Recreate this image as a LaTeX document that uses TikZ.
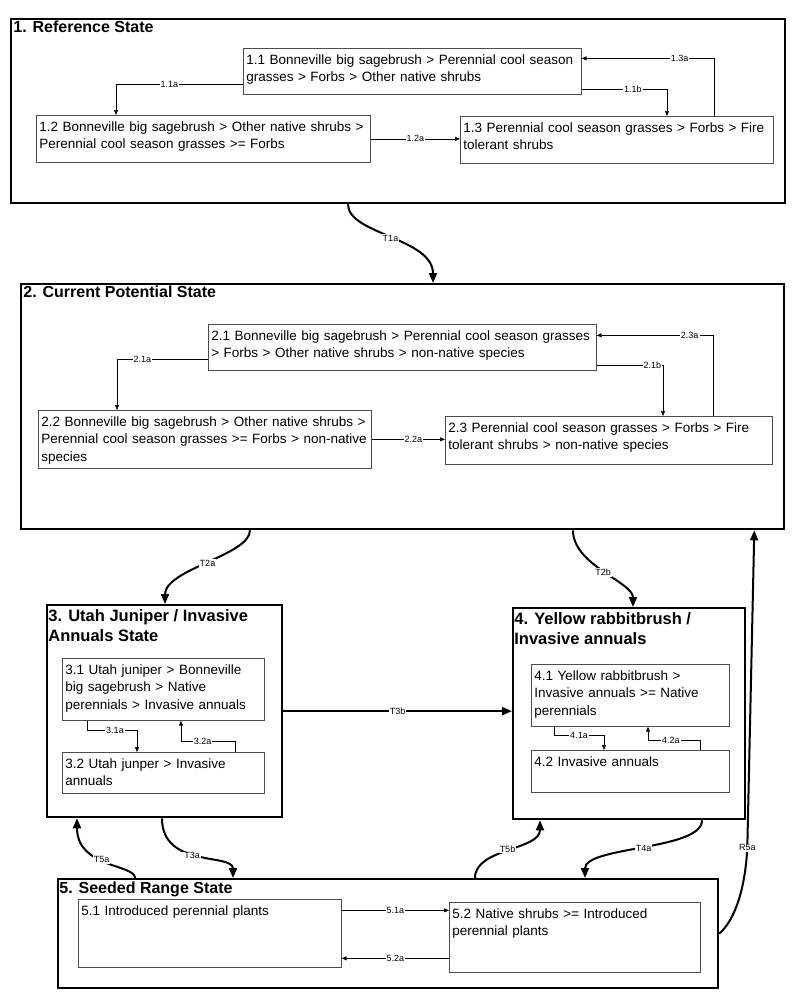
\documentclass[tikz,border=0pt]{standalone}
\usepackage{fontspec}
\setmainfont{Liberation Sans}
\usetikzlibrary{arrows.meta,positioning,calc}
\begin{document}
\begin{tikzpicture}[x=1pt,y=-1pt,thick]
    % `statebox' is the heavy frame of a state, `statename' its heading.
    % `substate' is used for the community phases inside a state.
    % `pathway' and `transition' are the thin and the heavy arrows.
    \tikzstyle{statebox} = [draw,line width=2.3pt,anchor=north west,inner sep=0pt]
    \tikzstyle{statename} = [anchor=north west,align=left,inner sep=1pt,font=\bfseries\fontsize{16}{20}\selectfont]
    \tikzstyle{substate} = [draw=black!70,line width=0.7pt,anchor=north west,align=left,inner sep=3pt,text height=13pt,font=\fontsize{13.5}{17.5}\selectfont]
    \tikzstyle{pathway} = [line width=0.6pt,-{Triangle[length=5pt,width=4pt]}]
    \tikzstyle{transition} = [line width=2pt,-{Triangle[length=10pt,width=8pt]}]
    \tikzstyle{lbl} = [fill=white,inner sep=1pt,font=\fontsize{9}{9}\selectfont]
    \useasboundingbox (0,0) rectangle (800,1002);
    %
    % 1. Reference State
    \node[statebox,minimum width=774pt,minimum height=184pt] (st1) at (10,18) {};
    \node[statename,below right=2pt and 2pt of st1.north west] (h1) {1. Reference State};
    \node[substate,text width=332pt,text depth=27pt] (s11) at (243,48)
      {1.1 Bonneville big sagebrush > Perennial cool season\\ grasses > Forbs > Other native shrubs};
    \node[substate,text width=328pt,text depth=28pt] (s12) at (36,115)
      {1.2 Bonneville big sagebrush > Other native shrubs >\\ Perennial cool season grasses >= Forbs};
    \node[substate,text width=307pt,text depth=28pt] (s13) at (460,116)
      {1.3 Perennial cool season grasses > Forbs > Fire\\ tolerant shrubs};
    \draw[pathway] ([yshift=-13pt]s11.west) -| node[lbl,pos=0.29]{1.1a} ([xshift=80pt]s12.north west);
    \draw[pathway] ([yshift=-18pt]s11.east) -| node[lbl,pos=0.3]{1.1b} ([xshift=207pt]s13.north west);
    \draw[pathway] ([xshift=254pt]s13.north west) |- node[lbl,pos=0.63]{1.3a} ([yshift=13pt]s11.east);
    \draw[pathway] (s12.east) -- node[lbl]{1.2a} (s12.east -| s13.west);
    %
    % 2. Current Potential State
    \node[statebox,minimum width=763pt,minimum height=245pt] (st2) at (20,283) {};
    \node[statename,below right=2pt and 2pt of st2.north west] (h2) {2. Current Potential State};
    \node[substate,text width=382pt,text depth=27pt] (s21) at (208,324)
      {2.1 Bonneville big sagebrush > Perennial cool season grasses\\ > Forbs > Other native shrubs > non-native species};
    \node[substate,text width=327pt,text depth=39pt] (s22) at (38,410)
      {2.2 Bonneville big sagebrush > Other native shrubs >\\ Perennial cool season grasses >= Forbs > non-native\\ species};
    \node[substate,text width=321pt,text depth=29pt] (s23) at (445,416)
      {2.3 Perennial cool season grasses > Forbs > Fire\\ tolerant shrubs > non-native species};
    \draw[pathway] ([yshift=-12pt]s21.west) -| node[lbl,pos=0.36]{2.1a} ([xshift=79pt]s22.north west);
    \draw[pathway] ([yshift=-18pt]s21.east) -| node[lbl,pos=0.42]{2.1b} ([xshift=218pt]s23.north west);
    \draw[pathway] ([xshift=268pt]s23.north west) |- node[lbl,pos=0.6]{2.3a} ([yshift=12pt]s21.east);
    \draw[pathway] (s22.east) -- node[lbl,pos=0.57]{2.2a} (s22.east -| s23.west);
    %
    % 3. Utah Juniper / Invasive Annuals State
    \node[statebox,minimum width=235pt,minimum height=212pt] (st3) at (46,604) {};
    \node[statename,below right=4pt and 1pt of st3.north west,font=\bfseries\fontsize{16.5}{20}\selectfont] (h3)
      {3. Utah Juniper / Invasive\\ Annuals State};
    \node[substate,text width=196pt,text depth=43pt] (s31) at (62,658)
      {3.1 Utah juniper > Bonneville\\ big sagebrush > Native\\ perennials > Invasive annuals};
    \node[substate,text width=196pt,text depth=22pt] (s32) at (62,752)
      {3.2 Utah junper > Invasive\\ annuals};
    \draw[pathway] ([xshift=25pt]s31.south west) -- ++(0,10) -| node[lbl,pos=0.28]{3.1a} ([xshift=75pt]s32.north west);
    \draw[pathway] ([xshift=173pt]s32.north west) -- ++(0,-11) -| node[lbl,pos=0.3]{3.2a} ([xshift=119pt]s31.south west);
    %
    % 4. Yellow rabbitbrush / Invasive annuals
    \node[statebox,minimum width=232pt,minimum height=211pt] (st4) at (512,607) {};
    \node[statename,below right=4pt and 1pt of st4.north west,font=\bfseries\fontsize{16.5}{20}\selectfont] (h4)
      {4. Yellow rabbitbrush /\\ Invasive annuals};
    \node[substate,text width=192pt,text depth=43pt] (s41) at (531,664)
      {4.1 Yellow rabbitbrush >\\ Invasive annuals >= Native\\ perennials};
    \node[substate,text width=192pt,text depth=23pt] (s42) at (531,750)
      {4.2 Invasive annuals};
    \draw[pathway] ([xshift=23pt]s41.south west) -- ++(0,9) -| node[lbl,pos=0.25]{4.1a} ([xshift=73pt]s42.north west);
    \draw[pathway] ([xshift=169pt]s42.north west) -- ++(0,-10) -| node[lbl,pos=0.28]{4.2a} ([xshift=117pt]s41.south west);
    %
    % 5. Seeded Range State
    \node[statebox,minimum width=660pt,minimum height=109pt] (st5) at (57,878) {};
    \node[statename,below right=2pt and 1pt of st5.north west] (h5) {5. Seeded Range State};
    \node[substate,text width=257pt,text depth=49pt] (s51) at (78,899)
      {5.1 Introduced perennial plants};
    \node[substate,text width=245pt,text depth=51pt] (s52) at (449,902)
      {5.2 Native shrubs >= Introduced\\ perennial plants};
    \draw[pathway] ([yshift=23pt]s51.east) -- node[lbl]{5.1a} ([yshift=23pt]s51.east -| s52.west);
    \draw[pathway] ([yshift=-21pt]s52.west) -- node[lbl]{5.2a} ([yshift=-21pt]s52.west -| s51.east);
    %
    % Transitions between states.
    \draw[transition] ([xshift=338pt]st1.south west) .. controls +(0,30) and +(0,-45) .. ([xshift=413pt]st2.north west) node[lbl,midway]{T1a};
    \draw[transition] ([xshift=230pt]st2.south west) .. controls +(0,25) and +(0,-35) .. ([xshift=119pt]st3.north west) node[lbl,midway]{T2a};
    \draw[transition] ([xshift=553pt]st2.south west) .. controls +(0,35) and +(0,-25) .. ([xshift=121pt]st4.north west) node[lbl,midway]{T2b};
    \draw[transition] (st3.east) -- node[lbl]{T3b} (st3.east -| st4.west);
    \draw[transition] ([xshift=116pt]st3.south west) .. controls +(0,50) and +(0,-25) .. ([xshift=176pt]st5.north west) node[lbl,pos=0.45]{T3a};
    \draw[transition] ([xshift=78pt]st5.north west) .. controls +(0,-14) and +(0,50) .. ([xshift=31pt]st3.south west) node[lbl,pos=0.55]{T5a};
    \draw[transition] ([xshift=418pt]st5.north west) .. controls +(0,-30) and +(0,30) .. ([xshift=28pt]st4.south west) node[lbl,midway]{T5b};
    \draw[transition] ([xshift=190pt]st4.south west) .. controls +(0,30) and +(0,-32) .. ([xshift=528pt]st5.north west) node[lbl,midway]{T4a};
    \draw[transition] (st5.east) .. controls +(16,-14) and +(-2,40) .. ($(st5.east)+(28,-86)$) node[lbl]{R5a}
      -- ([xshift=-31pt]st2.south east);
\end{tikzpicture}
\end{document}
